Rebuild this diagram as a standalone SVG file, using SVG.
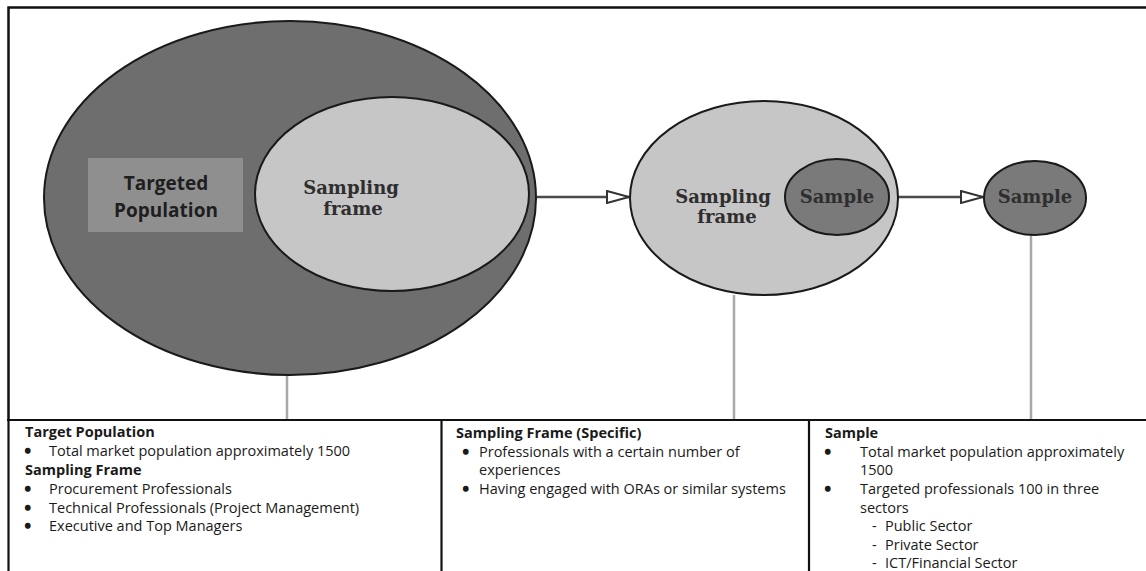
<svg xmlns="http://www.w3.org/2000/svg" width="1146" height="571" viewBox="0 0 1146 571">
  <style>
    .frame { fill: none; stroke: #111; stroke-width: 2.5; }
    .rule { stroke: #111; stroke-width: 2.2; }
    .outline { stroke: #1a1a1a; stroke-width: 2; }
    .dark { fill: #6e6e6e; }
    .mid { fill: #7a7a7a; }
    .light { fill: #c6c6c6; }
    .box { fill: #8f8f8f; }
    .lbl { font-family: "DejaVu Serif", "Liberation Serif", serif; font-weight: bold; font-size: 18px; fill: #2e2e2e; text-anchor: middle; }
    .boxlbl { font-family: "Open Sans", "Liberation Sans", sans-serif; font-weight: bold; font-size: 19px; fill: #1e1e1e; text-anchor: middle; }
    .arrow { stroke: #4a4a4a; stroke-width: 2.5; fill: none; }
    .drop { stroke: #a9a9a9; stroke-width: 2.5; fill: none; }
    .cell { font-family: "Open Sans", "Liberation Sans", sans-serif; font-size: 14.5px; fill: #1a1a1a; }
    .head { font-weight: bold; }
    .dot { font-weight: bold; stroke: #1a1a1a; stroke-width: 1.6; }
  </style>
  <defs>
    <marker id="openTri" viewBox="0 0 24 14" refX="23" refY="7" markerUnits="userSpaceOnUse" markerWidth="24" markerHeight="14" orient="auto">
      <path d="M1,1 L23,7 L1,13 Z" fill="#fff" stroke="#333" stroke-width="2"/>
    </marker>
  </defs>

  <rect width="1146" height="571" fill="#fff"/>

  <!-- upper panel frame (open on the right) -->
  <path class="frame" d="M1146,7.5 H8.5 V419"/>

  <!-- connectors -->
  <g id="connectors">
    <line class="arrow" x1="537" y1="197" x2="629" y2="197" marker-end="url(#openTri)"/>
    <line class="arrow" x1="898" y1="197" x2="983" y2="197" marker-end="url(#openTri)"/>
    <line class="drop" x1="287" y1="375" x2="287" y2="419"/>
    <line class="drop" x1="734" y1="295" x2="734" y2="419"/>
    <line class="drop" x1="1031" y1="235" x2="1031" y2="419"/>
  </g>

  <!-- population with nested sampling frame -->
  <g id="population">
    <ellipse class="dark outline" cx="290" cy="198" rx="246" ry="177"/>
    <rect class="box" x="88" y="158" width="155" height="74"/>
    <text class="boxlbl" x="166" y="190">Targeted</text>
    <text class="boxlbl" x="166" y="217">Population</text>
    <ellipse class="light outline" cx="392" cy="194" rx="137" ry="97"/>
    <text class="lbl" x="351" y="194">Sampling</text>
    <text class="lbl" x="353" y="215">frame</text>
  </g>

  <!-- sampling frame with nested sample -->
  <g id="sampling-frame">
    <ellipse class="light outline" cx="764" cy="198" rx="134" ry="97"/>
    <text class="lbl" x="723" y="203">Sampling</text>
    <text class="lbl" x="727" y="223">frame</text>
    <ellipse class="mid outline" cx="837" cy="197" rx="52" ry="38"/>
    <text class="lbl" x="837" y="203">Sample</text>
  </g>

  <!-- sample -->
  <g id="sample">
    <ellipse class="mid outline" cx="1035" cy="198" rx="51" ry="37"/>
    <text class="lbl" x="1035" y="203">Sample</text>
  </g>

  <!-- description table -->
  <g id="table">
    <line class="rule" x1="7" y1="420" x2="1146" y2="420"/>
    <line class="rule" x1="8.5" y1="419" x2="8.5" y2="571"/>
    <line class="rule" x1="441.5" y1="420" x2="441.5" y2="571"/>
    <line class="rule" x1="809" y1="420" x2="809" y2="571"/>

    <g id="col-population" class="cell">
      <text class="head" x="25" y="437">Target Population</text>
      <text class="dot" x="25" y="456">•</text>
      <text x="49" y="456">Total market population approximately 1500</text>
      <text class="head" x="25" y="475">Sampling Frame</text>
      <text class="dot" x="25" y="494">•</text>
      <text x="49" y="494">Procurement Professionals</text>
      <text class="dot" x="25" y="512.5">•</text>
      <text x="49" y="512.5">Technical Professionals (Project Management)</text>
      <text class="dot" x="25" y="531">•</text>
      <text x="49" y="531">Executive and Top Managers</text>
    </g>

    <g id="col-frame" class="cell">
      <text class="head" x="456" y="437.5">Sampling Frame (Specific)</text>
      <text class="dot" x="463" y="456.5">•</text>
      <text x="479" y="456.5">Professionals with a certain number of</text>
      <text x="479" y="475">experiences</text>
      <text class="dot" x="463" y="494">•</text>
      <text x="479" y="494">Having engaged with ORAs or similar systems</text>
    </g>

    <g id="col-sample" class="cell">
      <text class="head" x="825" y="437.5">Sample</text>
      <text class="dot" x="825" y="456.5">•</text>
      <text x="860" y="456.5">Total market population approximately</text>
      <text x="860" y="475">1500</text>
      <text class="dot" x="825" y="494">•</text>
      <text x="860" y="494">Targeted professionals 100 in three</text>
      <text x="860" y="512.5">sectors</text>
      <text x="872" y="531">-<tspan x="885">Public Sector</tspan></text>
      <text x="872" y="549.5">-<tspan x="885">Private Sector</tspan></text>
      <text x="872" y="568">-<tspan x="885">ICT/Financial Sector</tspan></text>
    </g>
  </g>
</svg>
